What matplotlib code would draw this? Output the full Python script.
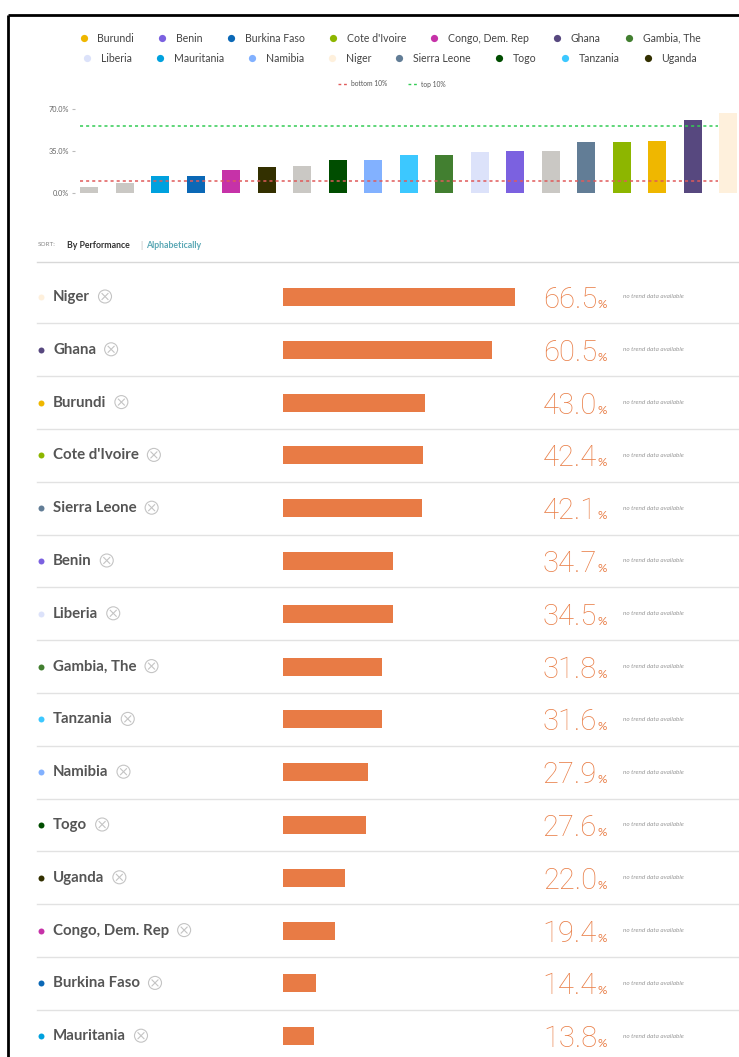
import matplotlib
matplotlib.use('Agg')
import matplotlib.pyplot as plt
from matplotlib.patches import Circle

W, H = 739, 1057

# data
countries = ['Niger', 'Ghana', 'Burundi', "Cote d'Ivoire", 'Sierra Leone', 'Benin', 'Liberia',
             'Gambia, The', 'Tanzania', 'Namibia', 'Togo', 'Uganda', 'Congo, Dem. Rep',
             'Burkina Faso', 'Mauritania']
values = [66.5, 60.5, 43.0, 42.4, 42.1, 34.7, 34.5, 31.8, 31.6, 27.9, 27.6, 22.0, 19.4, 14.4, 13.8]
other_values = [5.3, 8.3, 22.4, 35.2]  # unselected countries (grey bars)
legend_row1 = ['Burundi', 'Benin', 'Burkina Faso', "Cote d'Ivoire", 'Congo, Dem. Rep', 'Ghana', 'Gambia, The']
legend_row2 = ['Liberia', 'Mauritania', 'Namibia', 'Niger', 'Sierra Leone', 'Togo', 'Tanzania', 'Uganda']
bottom_10 = 10.0
top_10 = 56.0
y_ticks = [0, 35, 70]
bar_scale_min = 5.7

colors = {
    'Burundi': '#EFB700', 'Benin': '#7B61E0', 'Burkina Faso': '#0B68B6',
    "Cote d'Ivoire": '#8DB600', 'Congo, Dem. Rep': '#C632A8', 'Ghana': '#57487F',
    'Gambia, The': '#427F30', 'Liberia': '#DCE2FA', 'Mauritania': '#00A1DE',
    'Namibia': '#82B1FF', 'Niger': '#FEF0DC', 'Sierra Leone': '#627D96',
    'Togo': '#004D00', 'Tanzania': '#3CC8FF', 'Uganda': '#333000',
}
GREY = '#CAC8C4'
ORANGE = '#E87B45'
FONT = ['Lato', 'DejaVu Sans']
plt.rcParams['font.family'] = FONT


def px_rect(x0, y0, x1, y1):
    return [x0 / W, 1 - y1 / H, (x1 - x0) / W, (y1 - y0) / H]


fig = plt.figure(figsize=(W / 100, H / 100), dpi=100)
fig.patch.set_facecolor('white')
renderer = fig.canvas.get_renderer()

ov = fig.add_axes([0, 0, 1, 1])
ov.set_xlim(0, W)
ov.set_ylim(H, 0)
ov.axis('off')

# frame
ov.plot([8, W], [15, 15], color='black', lw=2, solid_capstyle='butt')
ov.plot([8, 8], [15, H], color='black', lw=2, solid_capstyle='butt')


def text_width(t):
    return t.get_window_extent(renderer).width


# legend rows (flow layout, centred)
def legend_row(names, y, cx=392):
    items = []
    for n in names:
        t = ov.text(0, y, n, fontsize=7.6, color='#444', va='center', ha='left')
        items.append((n, t, text_width(t)))
    total = sum(14 + w for _, _, w in items) + 28 * (len(items) - 1)
    x = cx - total / 2
    for n, t, w in items:
        ov.plot(x, y, 'o', ms=5.2, color=colors[n], mec='none')
        t.set_x(x + 14)
        x += 14 + w + 28


legend_row(legend_row1, 38)
legend_row(legend_row2, 58)

# bottom/top legend
ov.plot([338, 347], [84, 84], color='#E05A5A', lw=1, ls=(0, (2, 2)))
ov.text(351, 84, 'bottom 10%', fontsize=4.8, color='#555', va='center')
ov.plot([408, 417], [84, 84], color='#33CC55', lw=1, ls=(0, (2, 2)))
ov.text(421, 84, 'top 10%', fontsize=4.8, color='#555', va='center')

# top bar chart
top = fig.add_axes(px_rect(75, 100, W, 193))
pairs = [(v, colors[c]) for c, v in zip(countries, values)] + [(v, GREY) for v in other_values]
pairs.sort(key=lambda p: p[0])
xs = range(len(pairs))
top.bar(xs, [p[0] for p in pairs], width=0.5, color=[p[1] for p in pairs])
top.set_xlim(-0.4, -0.4 + 664 / 35.5)
top.set_ylim(0, 77.5)
top.hlines([bottom_10], -0.25, 17.7, colors='#E05A5A', lw=1.1, linestyles=[(0, (2, 2))])
top.hlines([top_10], -0.25, 17.7, colors='#33CC55', lw=1.1, linestyles=[(0, (2, 2))])
top.set_yticks(y_ticks)
top.set_yticklabels([f'{v:.1f}%' for v in y_ticks], fontsize=5.3, color='#666')
top.tick_params(axis='y', length=2.5, color='#BBB', pad=2)
top.set_xticks([])
for s in top.spines.values():
    s.set_visible(False)
top.patch.set_alpha(0)

# sort line
ov.text(38, 245, 'SORT:', fontsize=4.6, color='#888', va='center')
ov.text(67, 245, 'By Performance', fontsize=6.3, color='#333', fontweight='bold', va='center')
ov.text(140, 245, '|', fontsize=6.3, color='#BBB', va='center')
ov.text(146, 245, 'Alphabetically', fontsize=6.3, color='#5BA8B5', fontweight='bold', va='center')
ov.plot([37, W], [262, 262], color='#D8D8D8', lw=1)

# rows
row0, step = 297, 52.8
bars = fig.add_axes(px_rect(283, 262, W, H))
x_right = bar_scale_min + (W - 283) / 3.81
bars.set_xlim(bar_scale_min, x_right)
first = (row0 - 262) / step
bars.set_ylim((H - 262) / step - first, -first)
bars.barh(range(len(values)), values, height=18 / step, color=ORANGE)
bars.axis('off')
bars.patch.set_alpha(0)

for i, (c, v) in enumerate(zip(countries, values)):
    y = row0 + i * step
    ov.plot(41, y, 'o', ms=4.3, color=colors[c], mec='none')
    t = ov.text(53, y, c, fontsize=10.8, color='#555', fontweight='bold', va='center')
    cx = 53 + text_width(t) + 15
    ov.add_patch(Circle((cx, y - 0.5), 6.5, fill=False, ec='#C4C4C4', lw=0.8))
    d = 3.0
    ov.plot([cx - d, cx + d], [y - 0.5 - d, y - 0.5 + d], color='#C4C4C4', lw=0.8)
    ov.plot([cx - d, cx + d], [y - 0.5 + d, y - 0.5 - d], color='#C4C4C4', lw=0.8)
    ov.text(597, y + 11, f'{v:.1f}', fontsize=21, color='#E97E47', family=['Roboto', 'DejaVu Sans'],
            fontweight='light', ha='right', va='baseline')
    ov.text(598, y + 11, '%', fontsize=8.5, color='#E97E47', ha='left', va='baseline')
    ov.text(623, y, 'no trend data available', fontsize=4.6, color='#999', style='italic',
            va='center')
    if i < len(values) - 1:
        ov.plot([37, W], [y + step / 2, y + step / 2], color='#E2E2E2', lw=1)

fig.savefig('out.png', dpi=100)
